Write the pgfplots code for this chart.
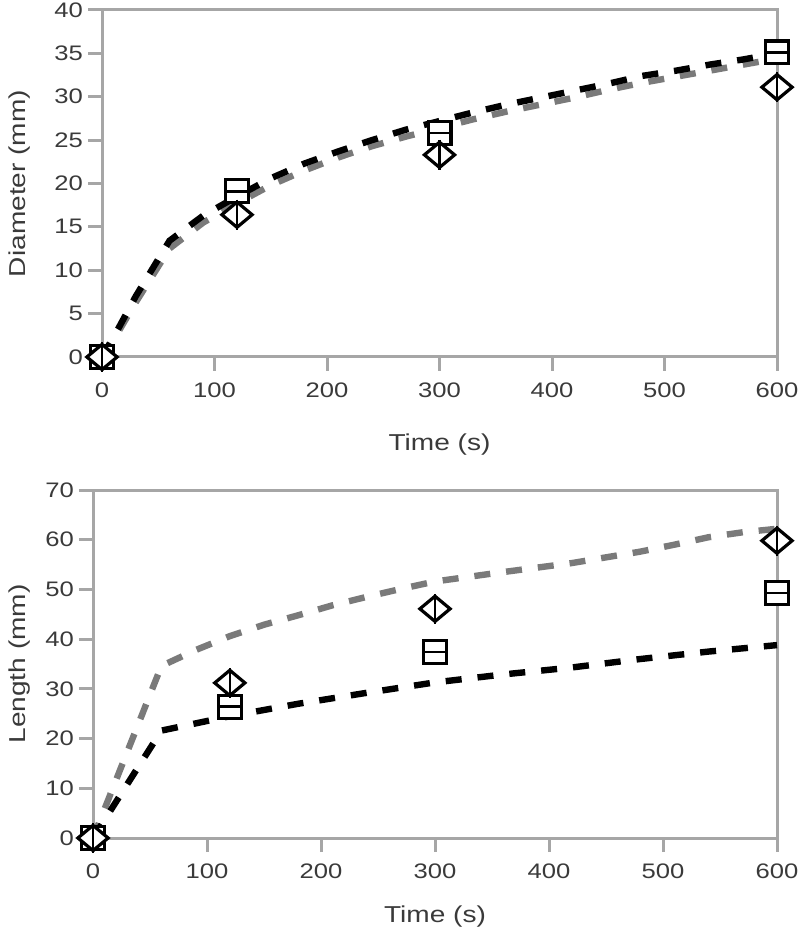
\documentclass[border=0pt]{standalone}
\usepackage{pgfplots}
\pgfplotsset{compat=1.18}
\usepackage{fontspec}
\setmainfont[FakeStretch=1.22]{Liberation Sans}
\definecolor{axgray}{HTML}{A6A6A6}
\definecolor{lngray}{HTML}{7A7A7A}
\definecolor{txt}{HTML}{3A3A3A}
\pgfplotsset{
  myax/.style={
    scale only axis,
    axis line style={axgray, line width=1.5pt},
    tick style={axgray, line width=1.5pt},
    major tick length=7pt,
    tick align=outside,
    xtick pos=bottom, ytick pos=left,
    xmin=0, xmax=600,
    xtick={0,100,200,300,400,500,600},
    ticklabel style={font=\fontsize{10.5}{12}\selectfont, text=txt},
    label style={font=\fontsize{11.5}{13}\selectfont, text=txt},
    /pgf/number format/assume math mode=true,
    yticklabel style={xshift=1pt},
    xticklabel style={yshift=-2.5pt},
    clip=false,
  },
  blackline/.style={black, line width=3.2pt, dash pattern=on 8pt off 8pt, no marks},
  grayline/.style={lngray, line width=3.2pt, dash pattern=on 8pt off 8pt, no marks},
  sqm/.style={only marks, mark=square*, mark size=5.7pt, mark options={fill=white, draw=black, line width=1.6pt, solid}},
  sqbar/.style={only marks, mark=-, mark size=5.7pt, mark options={black, line width=1.3pt, solid}},
  dim/.style={only marks, mark=diamond*, mark size=6.3pt, mark options={fill=white, draw=black, line width=1.6pt, solid, xscale=1.6}},
  dibar/.style={only marks, mark=|, mark size=7.5pt, mark options={black, line width=1.3pt, solid}},
}
\begin{document}
\begin{tikzpicture}
\useasboundingbox (0,0) rectangle (400pt,470pt);
% ---------- top panel ----------
\begin{axis}[myax,
  at={(51pt,291.5pt)}, anchor=south west,
  width=337.5pt, height=173.5pt,
  ymin=0, ymax=40, ytick={0,5,10,15,20,25,30,35,40},
  xlabel={Time (s)}, ylabel={Diameter (mm)},
  xlabel style={at={(axis description cs:0.5,-0.252)}, anchor=center},
  ylabel style={at={(axis description cs:-0.122,0.5)}, anchor=center, rotate=0},
]
\addplot[grayline] coordinates {(0,0) (15,3.0) (30,6.3) (45,9.4) (60,12.5) (90,15.5) (120,17.7) (150,19.8) (180,21.5) (210,23.0) (240,24.3) (270,25.4) (300,26.4) (330,27.4) (360,28.3) (390,29.1) (420,29.9) (450,30.8) (480,31.6) (510,32.3) (540,33.0) (570,33.7) (600,34.4)};
\addplot[blackline] coordinates {(0,0) (15,3.4) (30,7.0) (45,10.2) (60,13.4) (90,16.3) (120,18.5) (150,20.6) (180,22.3) (210,23.7) (240,25.0) (270,26.2) (300,27.2) (330,28.2) (360,29.1) (390,29.9) (420,30.7) (450,31.5) (480,32.4) (510,33.0) (540,33.7) (570,34.3) (600,35.0)};
\addplot[sqm] coordinates {(0,0) (120,19.1) (300,25.8) (600,35.1)};
\addplot[sqbar] coordinates {(0,0) (120,19.1) (300,25.8) (600,35.1)};
\addplot[dim] coordinates {(0,0) (120,16.4) (300,23.3) (600,31.1)};
\addplot[dibar] coordinates {(0,0) (120,16.4) (300,23.3) (600,31.1)};
\end{axis}
% ---------- bottom panel ----------
\begin{axis}[myax,
  at={(46.5pt,51pt)}, anchor=south west,
  width=342pt, height=174pt,
  ymin=0, ymax=70, ytick={0,10,20,30,40,50,60,70},
  xlabel={Time (s)}, ylabel={Length (mm)},
  xlabel style={at={(axis description cs:0.5,-0.225)}, anchor=center},
  ylabel style={at={(axis description cs:-0.108,0.5)}, anchor=center, rotate=0},
]
\addplot[grayline] coordinates {(0,0) (60,34.6) (90,37.8) (120,40.6) (150,42.9) (180,44.8) (210,46.8) (240,48.5) (270,50.1) (300,51.6) (360,53.5) (420,55.3) (480,57.6) (510,59.0) (540,60.5) (570,61.5) (600,62.2)};
\addplot[blackline] coordinates {(0,0) (60,21.6) (120,24.5) (180,27.0) (240,29.2) (300,31.3) (360,32.9) (420,34.3) (480,36.0) (540,37.5) (600,38.8)};
\addplot[sqm] coordinates {(0,0) (120,26.4) (300,37.4) (600,49.3)};
\addplot[sqbar] coordinates {(0,0) (120,26.4) (300,37.4) (600,49.3)};
\addplot[dim] coordinates {(0,0) (120,31.2) (300,46.1) (600,59.8)};
\addplot[dibar] coordinates {(0,0) (120,31.2) (300,46.1) (600,59.8)};
\end{axis}
\end{tikzpicture}
\end{document}
